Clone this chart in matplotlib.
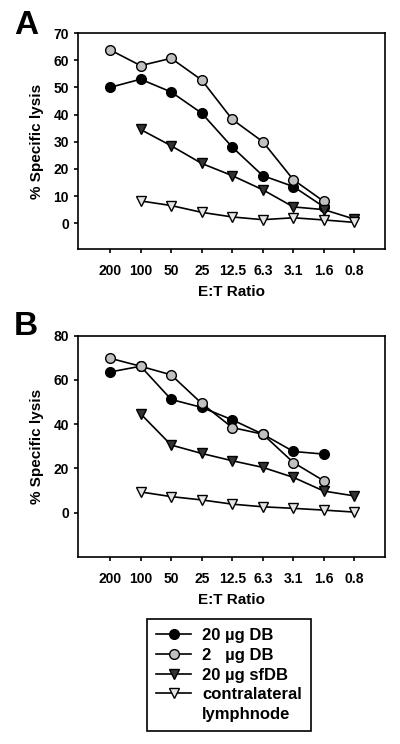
import numpy as np
import matplotlib
matplotlib.use('Agg')
import matplotlib.pyplot as plt
from matplotlib.lines import Line2D

plt.rcParams['font.family'] = ['Liberation Sans', 'DejaVu Sans']
plt.rcParams['font.weight'] = 'bold'

ratios = ['200', '100', '50', '25', '12.5', '6.3', '3.1', '1.6', '0.8']

# panel A
a_db20 = [50, 53, 48.3, 40.5, 28, 17.5, 13.5, 6]
a_db2 = [63.8, 58, 60.7, 52.7, 38.2, 30, 16, 8]
a_sfdb = [34.5, 28.5, 22, 17.5, 12.3, 6, 5, 1.5]
a_contra = [8.2, 6.5, 4, 2.3, 1.3, 2, 1.2, 0.3]

# panel B
b_db20 = [63.6, 66.2, 51.2, 47.6, 42, 35.5, 27.7, 26.5]
b_db2 = [69.8, 66.2, 62.3, 49.4, 38.5, 35.5, 22.7, 14.4]
b_sfdb = [44.7, 30.6, 26.8, 23.5, 20.5, 16, 9.8, 7.6]
b_contra = [9.4, 7.3, 5.8, 3.9, 2.7, 2, 1.2, 0.3]

labels = ['20 µg DB', '2   µg DB', '20 µg sfDB', 'contralateral', 'lymphnode']

fig = plt.figure(figsize=(4, 7.44), dpi=100)
axA = fig.add_axes([0.195, 0.6653, 0.7675, 0.2903])
axB = fig.add_axes([0.195, 0.2513, 0.7675, 0.2975])


def draw(ax, db20, db2, sfdb, contra):
    x = np.arange(len(ratios))
    kw = dict(color='black', lw=1.2, markersize=7, markeredgecolor='black', markeredgewidth=1.0)
    h1, = ax.plot(x[:len(db20)], db20, marker='o', markerfacecolor='black', **kw)
    h2, = ax.plot(x[:len(db2)], db2, marker='o', markerfacecolor='#c0c0c0', **kw)
    h3, = ax.plot(x[1:1 + len(sfdb)], sfdb, marker='v', markerfacecolor='#333333', **kw)
    h4, = ax.plot(x[1:1 + len(contra)], contra, marker='v', markerfacecolor='#e6e6e6', **kw)
    ax.set_xlim(-1.05, 9.0)
    ax.set_xticks(x)
    ax.set_xticklabels(ratios)
    ax.set_xlabel('E:T Ratio', fontsize=11, fontweight='bold', labelpad=5)
    ax.set_ylabel('% Specific lysis', fontsize=11, fontweight='bold', labelpad=7)
    for s in ax.spines.values():
        s.set_linewidth(1.2)
    ax.tick_params(direction='out', width=1.2, length=3, labelsize=10)
    ax.tick_params(axis='x', pad=8)
    return [h1, h2, h3, h4]


draw(axA, a_db20, a_db2, a_sfdb, a_contra)
axA.set_ylim(-9.5, 70)
axA.set_yticks(np.arange(0, 71, 10))

handles = draw(axB, b_db20, b_db2, b_sfdb, b_contra)
axB.set_ylim(-20, 80)
axB.set_yticks(np.arange(0, 81, 20))

fig.text(0.035, 0.966, 'A', fontsize=24, fontweight='bold', va='center')
fig.text(0.035, 0.561, 'B', fontsize=24, fontweight='bold', va='center')

# second line of the last label, no marker
blank = Line2D([], [], linestyle='none', marker=None)
leg = fig.legend(handles + [blank], labels, loc='upper left', bbox_to_anchor=(0.3675, 0.168),
                 borderaxespad=0, fontsize=12, frameon=True, fancybox=False,
                 handlelength=2.1, borderpad=0.55, labelspacing=0.28, handletextpad=0.65)
leg.get_frame().set_edgecolor('black')
leg.get_frame().set_linewidth(1.2)
leg.get_frame().set_alpha(1)
for t in leg.get_texts():
    t.set_fontweight('bold')

fig.savefig('out.png', dpi=100)
